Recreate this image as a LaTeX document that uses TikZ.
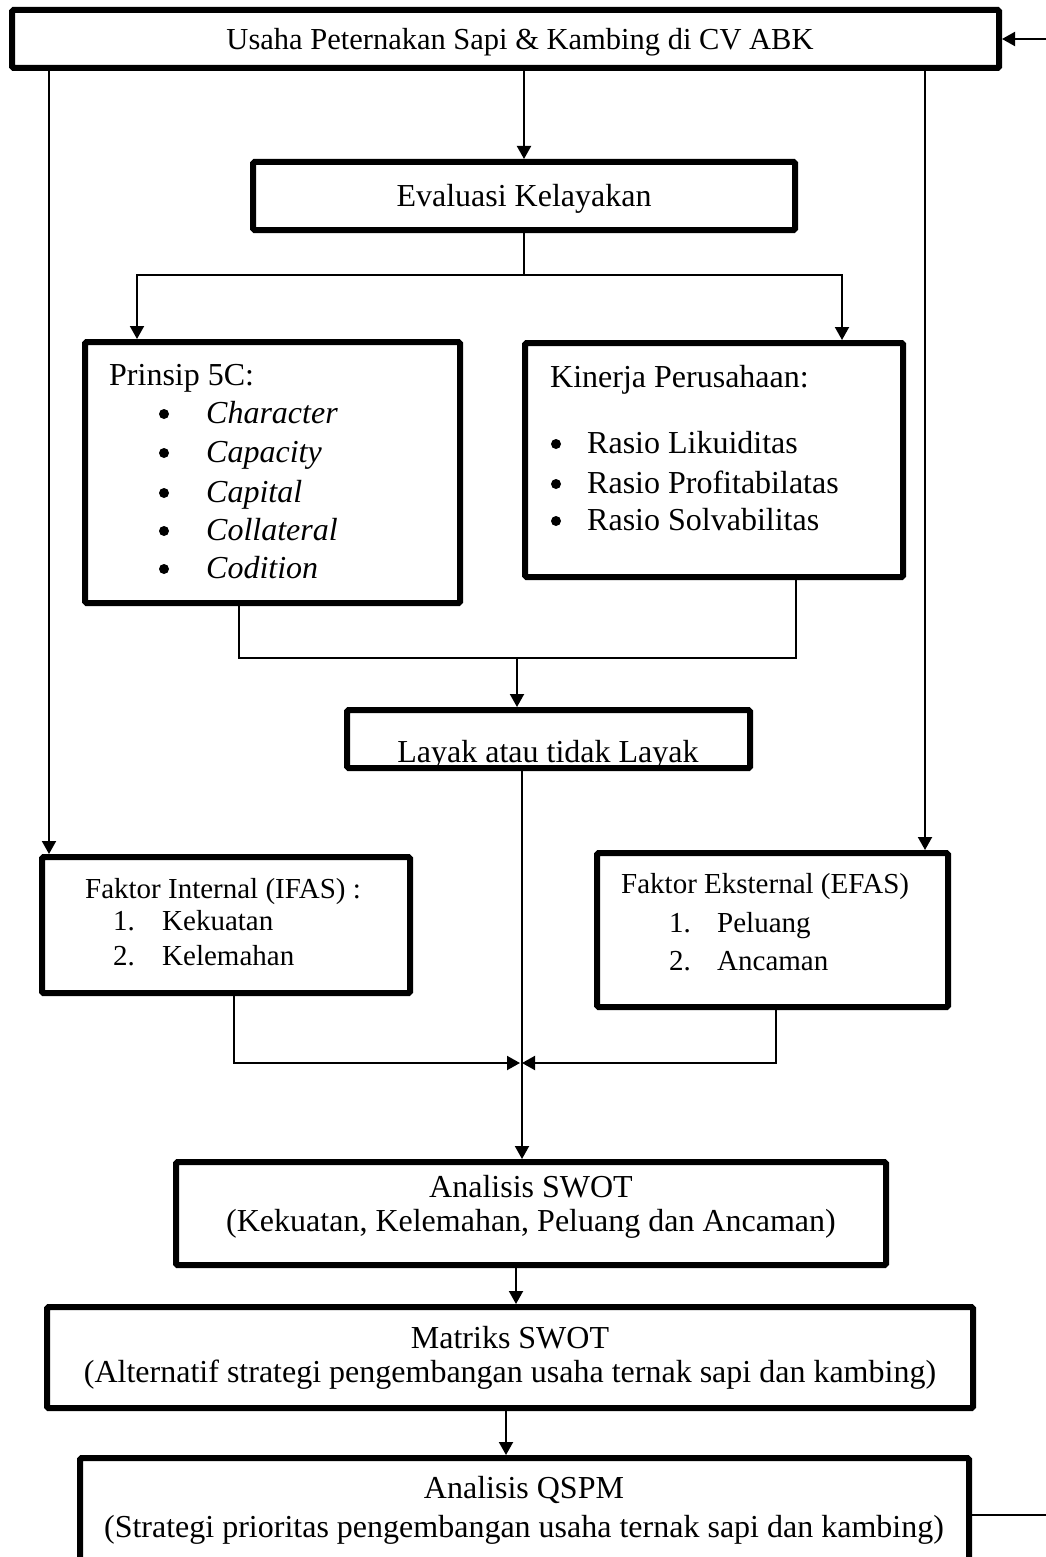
\documentclass[tikz,border=0pt]{standalone}
\usepackage{fontspec}
\setmainfont{Liberation Serif}
\usetikzlibrary{arrows.meta}

\begin{document}
\begin{tikzpicture}[x=1pt,y=-1pt,
    box/.style={draw,line width=6pt,rounded corners=1.5pt,inner sep=0pt},
    ln/.style={line width=2pt},
    arr/.style={-{Triangle[length=13pt,width=14pt]},line width=2pt},
    txt/.style={inner sep=0pt,font=\fontsize{32}{38}\selectfont},
    sml/.style={inner sep=0pt,font=\fontsize{29}{35}\selectfont},
    bul/.style={circle,fill,inner sep=0pt,minimum size=10pt}
]
\useasboundingbox (0,0) rectangle (1046,1557);

% top box
\node[box,minimum width=987pt,minimum height=58pt] (usaha) at (505.5,39) {};
\node[txt,font=\fontsize{30.5}{36}\selectfont,anchor=base] (usahat) at (520,50) {Usaha Peternakan Sapi \& Kambing di CV ABK};

% evaluasi
\node[box,minimum width=542pt,minimum height=68pt] (eval) at (524,196) {};
\node[txt,anchor=base] (evalt) at (524,207) {Evaluasi Kelayakan};

% prinsip 5C
\node[box,minimum width=375pt,minimum height=261pt] (prinsip) at (272.5,472.5) {};
\node[txt,anchor=base west] (prinsipt) at (109,385) {Prinsip 5C:};
\foreach \itm/\yy in {Character/423,Capacity/462,Capital/502,Collateral/540,Codition/578}{
  \node[bul] (pb-\itm) at (164,\yy-9) {};
  \node[txt,anchor=base west] (p-\itm) at (206,\yy) {\textit{\itm}};
}

% kinerja
\node[box,minimum width=378pt,minimum height=234pt] (kinerja) at (714,460) {};
\node[txt,anchor=base west] (kinerjat) at (550,387) {Kinerja Perusahaan:};
\foreach \itm/\yy in {Likuiditas/453,Profitabilatas/493,Solvabilitas/530}{
  \node[bul] (kb-\itm) at (556,\yy-9) {};
  \node[txt,anchor=base west] (k-\itm) at (587,\yy) {Rasio \itm};
}

% layak
\node[box,minimum width=403pt,minimum height=58pt] (layak) at (548.5,739) {};
\node[txt,anchor=base] (layakt) at (548,762) {Layak atau tidak Layak};

% IFAS
\node[box,minimum width=368pt,minimum height=136pt] (ifas) at (226,925) {};
\node[sml,anchor=base] (ifast) at (223,898) {Faktor Internal (IFAS) :};
\node[sml,anchor=base west] (ifas1n) at (113,930) {1.};
\node[sml,anchor=base west] (ifas1) at (162,930) {Kekuatan};
\node[sml,anchor=base west] (ifas2n) at (113,965) {2.};
\node[sml,anchor=base west] (ifas2) at (162,965) {Kelemahan};

% EFAS
\node[box,minimum width=351pt,minimum height=154pt] (efas) at (772.5,930) {};
\node[sml,anchor=base west] (efast) at (621,893) {Faktor Eksternal (EFAS)};
\node[sml,anchor=base west] (efas1n) at (669,932) {1.};
\node[sml,anchor=base west] (efas1) at (717,932) {Peluang};
\node[sml,anchor=base west] (efas2n) at (669,970) {2.};
\node[sml,anchor=base west] (efas2) at (717,970) {Ancaman};

% swot
\node[box,minimum width=710pt,minimum height=103pt] (swot) at (531,1213.5) {};
\node[txt,anchor=base] (swott) at (531,1197) {Analisis SWOT};
\node[txt,anchor=base] (swots) at (531,1231) {(Kekuatan, Kelemahan, Peluang dan Ancaman)};

% matriks
\node[box,minimum width=926pt,minimum height=101pt] (matriks) at (510,1357.5) {};
\node[txt,anchor=base] (matrikst) at (510,1348) {Matriks SWOT};
\node[txt,anchor=base] (matrikss) at (510,1382) {(Alternatif strategi pengembangan usaha ternak sapi dan kambing)};

% qspm
\node[box,minimum width=889pt,minimum height=122pt] (qspm) at (524.5,1519) {};
\node[txt,anchor=base] (qspmt) at (524,1498) {Analisis QSPM};
\node[txt,anchor=base] (qspms) at (524,1537) {(Strategi prioritas pengembangan usaha ternak sapi dan kambing)};

% helper coordinates
\coordinate (xl) at (49,0);
\coordinate (xr) at (925,0);
\coordinate (ysplit) at (0,275);
\coordinate (yjoin) at (0,658);
\coordinate (meet) at (521,1063);
\coordinate (rin) at (1046,39);
\coordinate (rout) at (1046,1515);

% connectors
\draw[arr] (rin) -- (usaha.east);
\draw[arr] (usaha.south -| xl) -- (ifas.north -| xl);
\draw[arr] (usaha.south -| xr) -- (efas.north -| xr);
\draw[arr] (usaha.south -| eval.north) -- (eval.north);

\draw[ln] (eval.south) -- (eval.south |- ysplit);
\draw[arr] (eval.south |- ysplit) -| ([xshift=-135.5pt]prinsip.north);
\draw[arr] (eval.south |- ysplit) -| ([xshift=128pt]kinerja.north);

\draw[ln] ([xshift=-33.5pt]prinsip.south) |- ([xshift=82pt]kinerja.south |- yjoin) -- ([xshift=82pt]kinerja.south);
\draw[arr] ([xshift=-31.5pt]layak.north |- yjoin) -- ([xshift=-31.5pt]layak.north);

\draw[arr] ([xshift=-26.5pt]layak.south) -- ([xshift=-26.5pt]layak.south |- swot.north);
\draw[arr] ([xshift=8pt]ifas.south) |- ([xshift=-1pt]meet);
\draw[arr] ([xshift=3.5pt]efas.south) |- ([xshift=1pt]meet);

\draw[arr] ([xshift=-15pt]swot.south) -- ([xshift=-15pt]swot.south |- matriks.north);
\draw[arr] ([xshift=-4pt]matriks.south) -- ([xshift=-4pt]matriks.south |- qspm.north);
\draw[ln] (qspm.east |- rout) -- (rout);
\end{tikzpicture}
\end{document}
